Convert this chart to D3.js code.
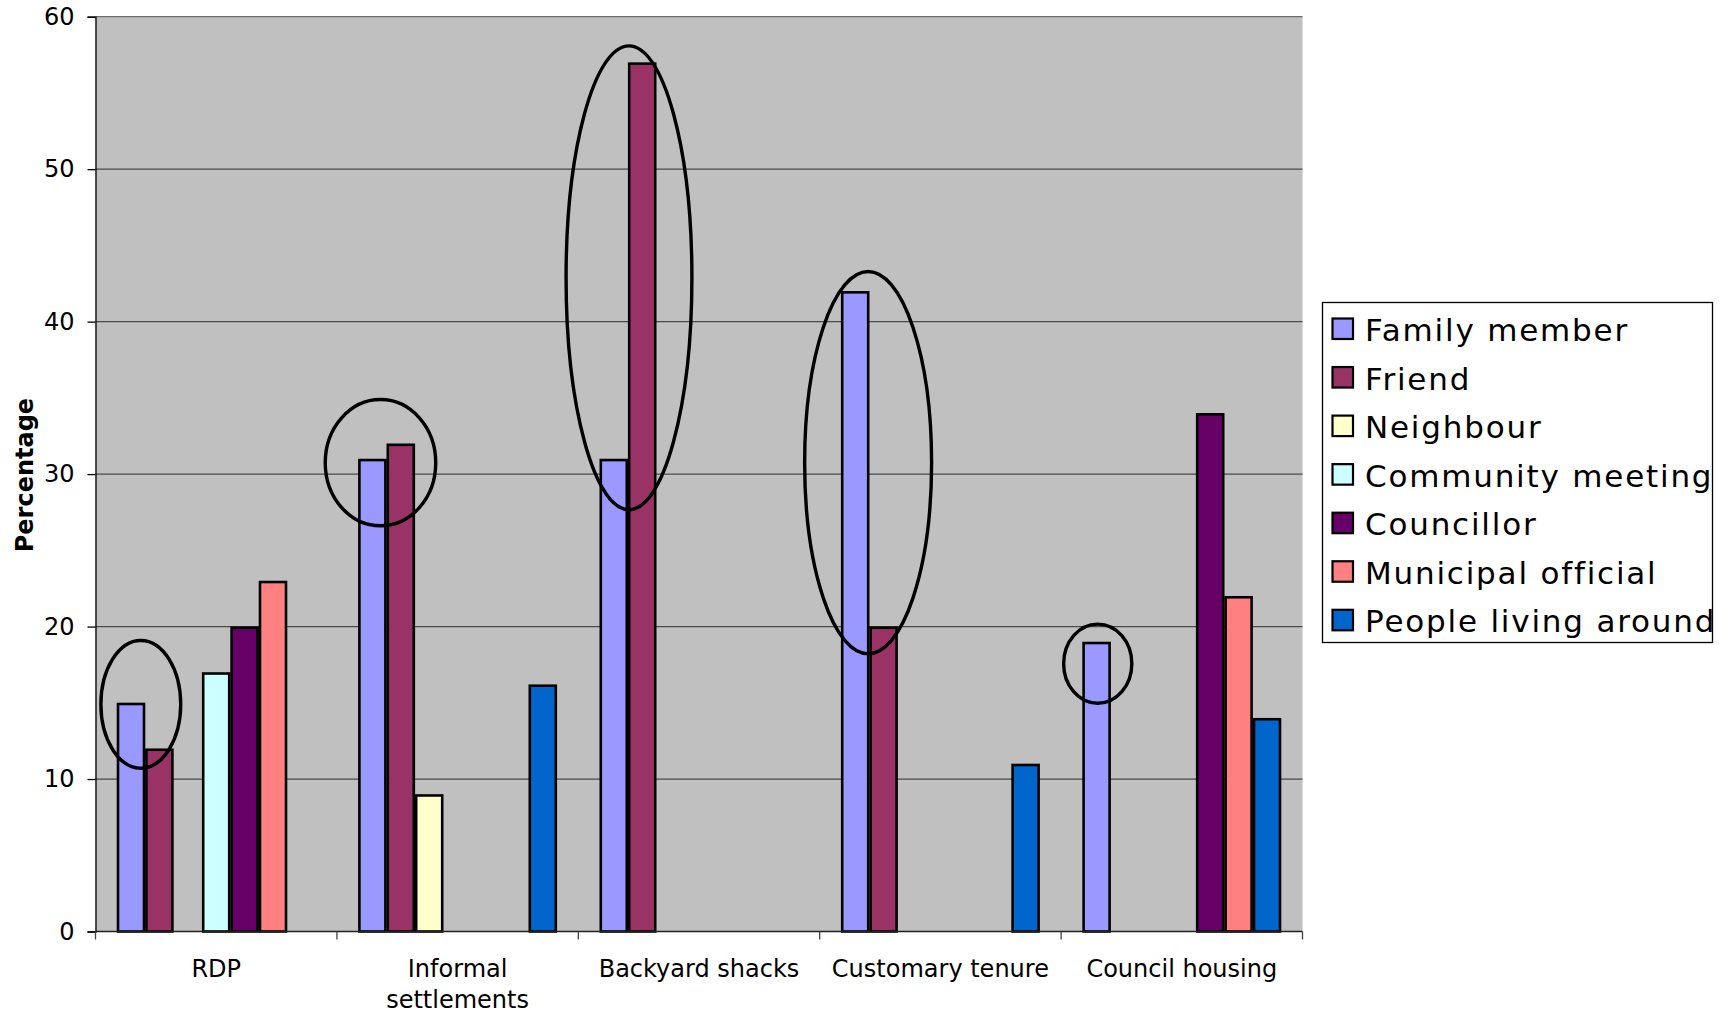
<!DOCTYPE html>
<html>
<head>
<meta charset="utf-8">
<script src="https://cdn.jsdelivr.net/npm/d3@7"></script>
<style>
  html, body { margin: 0; padding: 0; background: #fff; }
  svg { display: block; font-family: "DejaVu Sans", Verdana, sans-serif; }
</style>
</head>
<body>
<svg id="chart" width="1732" height="1013"></svg>
<script>
// Housing types along the x axis
const categories = ["RDP", "Informal settlements", "Backyard shacks", "Customary tenure", "Council housing"];

// Source of information, one series per legend entry
const seriesNames = ["Family member", "Friend", "Neighbour", "Community meeting", "Councillor", "Municipal official", "People living around"];
const seriesColors = ["#9999FF", "#993366", "#FFFFCC", "#CCFFFF", "#660066", "#FF8080", "#0066CC"];

// Percentages per series, in category order
const familyMember     = [15, 31, 31, 42, 19];
const friend           = [12, 32, 57, 20, 0];
const neighbour        = [0, 9, 0, 0, 0];
const communityMeeting = [17, 0, 0, 0, 0];
const councillor       = [20, 0, 0, 0, 34];
const municipalOfficial= [23, 0, 0, 0, 22];
const peopleLiving     = [0, 16.2, 0, 11, 14];

const yTicks = [0, 10, 20, 30, 40, 50, 60];

// Highlight ellipses: slot span (in bar widths from the first bar) and value span
const highlights = [
  { category: "RDP",                  slotFrom: -0.62, slotTo: 2.31, top: 19.2,  bottom: 10.6 },
  { category: "Informal settlements", slotFrom: -1.22, slotTo: 2.79, top: 35.0,  bottom: 26.5 },
  { category: "Backyard shacks",      slotFrom: -1.24, slotTo: 3.31, top: 58.2,  bottom: 27.55 },
  { category: "Customary tenure",     slotFrom: -1.34, slotTo: 3.25, top: 43.4,  bottom: 18.1 },
  { category: "Council housing",      slotFrom: -0.72, slotTo: 1.80, top: 20.27, bottom: 14.86 }
];

const values = [familyMember, friend, neighbour, communityMeeting, councillor, municipalOfficial, peopleLiving];

const svg = d3.select("#chart");
const plot = { left: 95.5, right: 1302.5, top: 16.7, bottom: 931.5 };

const x0 = d3.scaleBand().domain(categories).range([plot.left, plot.right]).padding(0);
const x1 = d3.scaleBand().domain(seriesNames).range([0, x0.bandwidth()]).paddingInner(0).paddingOuter(0.75);
const y = d3.scaleLinear().domain([0, 60]).range([plot.bottom, plot.top]);
const color = d3.scaleOrdinal().domain(seriesNames).range(seriesColors);

// Plot area background
svg.append("rect")
  .attr("x", plot.left).attr("y", plot.top)
  .attr("width", plot.right - plot.left).attr("height", plot.bottom - plot.top)
  .attr("fill", "#C0C0C0");

// Horizontal gridlines
svg.append("g")
  .selectAll("line")
  .data(yTicks.filter(t => t > 0))
  .join("line")
  .attr("x1", plot.left).attr("x2", plot.right)
  .attr("y1", d => y(d)).attr("y2", d => y(d))
  .attr("stroke", d => d === 60 ? "#6e6e6e" : "#4a4a4a")
  .attr("stroke-width", 1.3);

// Bars
const barData = [];
seriesNames.forEach((s, si) => {
  categories.forEach((c, ci) => {
    const v = values[si][ci];
    if (v > 0) barData.push({ series: s, category: c, value: v });
  });
});

svg.append("g")
  .selectAll("rect")
  .data(barData)
  .join("rect")
  .attr("x", d => x0(d.category) + x1(d.series) + 1.2)
  .attr("width", x1.bandwidth() - 2.4)
  .attr("y", d => y(d.value) + 1.2)
  .attr("height", d => y(0) - y(d.value) - 1.2)
  .attr("fill", d => color(d.series))
  .attr("stroke", "#000")
  .attr("stroke-width", 2.6);

// Y axis
const yAxis = d3.axisLeft(y).tickValues(yTicks).tickSize(8).tickPadding(13).tickFormat(d3.format("d"));
const gy = svg.append("g").attr("transform", `translate(${plot.left},0)`).call(yAxis);
gy.select(".domain").attr("stroke", "#000").attr("stroke-width", 1.3);
gy.selectAll(".tick line").attr("stroke", "#000").attr("stroke-width", 1.3);
gy.selectAll(".tick text")
  .attr("font-family", "DejaVu Sans, Verdana, sans-serif")
  .attr("font-size", 24).attr("fill", "#000");

// X axis: ticks at category boundaries
const xAxisG = svg.append("g");
xAxisG.append("line")
  .attr("x1", plot.left).attr("x2", plot.right)
  .attr("y1", plot.bottom).attr("y2", plot.bottom)
  .attr("stroke", "#222").attr("stroke-width", 1.3);
const boundaries = categories.map(c => x0(c)).concat([x0(categories[categories.length - 1]) + x0.bandwidth()]);
xAxisG.selectAll("line.tick")
  .data(boundaries)
  .join("line")
  .attr("class", "tick")
  .attr("x1", d => d).attr("x2", d => d)
  .attr("y1", plot.bottom).attr("y2", plot.bottom + 8)
  .attr("stroke", "#444").attr("stroke-width", 1.3);

// Category labels, wrapped when wider than their band
const labelG = svg.append("g")
  .attr("font-size", 24).attr("fill", "#000").attr("text-anchor", "middle");
categories.forEach(c => {
  const cx = x0(c) + x0.bandwidth() / 2;
  const t = labelG.append("text").attr("x", cx).attr("y", 977);
  t.text(c);
  if (t.node().getComputedTextLength() > x0.bandwidth()) {
    const words = c.split(" ");
    t.text(null);
    words.forEach((w, i) => {
      t.append("tspan")
        .attr("x", cx)
        .attr("dy", i === 0 ? 0 : 31)
        .text(w);
    });
  }
});

// Y axis title
svg.append("text")
  .attr("transform", `translate(32.5, ${(plot.top + plot.bottom) / 2 + 1}) rotate(-90)`)
  .attr("text-anchor", "middle")
  .attr("font-size", 24)
  .attr("font-weight", "bold")
  .attr("fill", "#000")
  .text("Percentage");

// Highlight ellipses
const step = x1.step();
svg.append("g")
  .selectAll("ellipse")
  .data(highlights)
  .join("ellipse")
  .attr("cx", d => x0(d.category) + x1(seriesNames[0]) + (d.slotFrom + d.slotTo) / 2 * step)
  .attr("cy", d => (y(d.top) + y(d.bottom)) / 2)
  .attr("rx", d => (d.slotTo - d.slotFrom) / 2 * step - 1.7)
  .attr("ry", d => (y(d.bottom) - y(d.top)) / 2 - 1.7)
  .attr("fill", "none")
  .attr("stroke", "#000")
  .attr("stroke-width", 3.4);

// Legend
const legend = svg.append("g");
legend.append("rect")
  .attr("x", 1322.5).attr("y", 302.5)
  .attr("width", 390).attr("height", 340)
  .attr("fill", "#fff").attr("stroke", "#000").attr("stroke-width", 1.3);
const rows = legend.selectAll("g.row")
  .data(seriesNames)
  .join("g")
  .attr("class", "row")
  .attr("transform", (d, i) => `translate(0, ${341 + i * 48.55})`);
rows.append("rect")
  .attr("x", 1332.5).attr("y", -22.5)
  .attr("width", 20.5).attr("height", 20.5)
  .attr("fill", d => color(d))
  .attr("stroke", "#000").attr("stroke-width", 2.2);
rows.append("text")
  .attr("x", 1365).attr("y", 0)
  .attr("font-size", 31)
  .attr("letter-spacing", 1.8)
  .attr("fill", "#000")
  .text(d => d);
</script>
</body>
</html>
